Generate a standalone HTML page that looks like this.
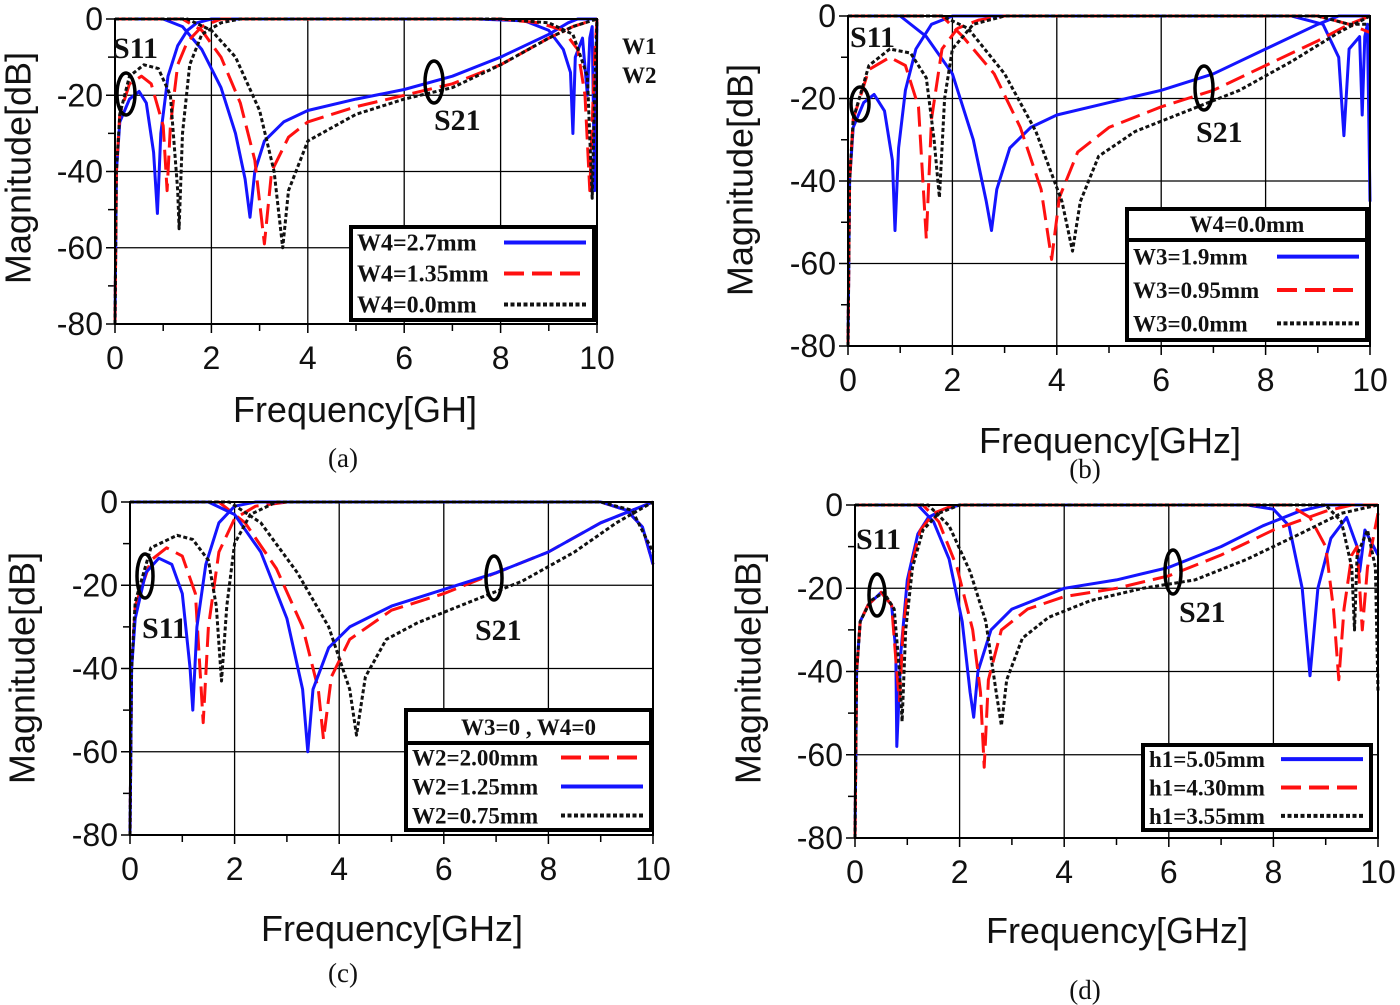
<!DOCTYPE html>
<html><head><meta charset="utf-8"><style>
html,body{margin:0;padding:0;background:#fff}
svg{display:block}
.tk{font-family:"Liberation Sans",Arial,sans-serif;font-size:32px;fill:#111}
.at{font-family:"Liberation Sans",Arial,sans-serif;font-size:36px;fill:#111}
.sv{font-family:"Liberation Serif","Times New Roman",serif;font-weight:bold;fill:#111}
.cap{font-family:"Liberation Serif","Times New Roman",serif;font-size:27px;fill:#111}
</style></head><body>
<svg id="fig" width="1400" height="1005" viewBox="0 0 1400 1005" xmlns="http://www.w3.org/2000/svg"></svg>
<script>
// ---- data: [frequency GHz, magnitude dB] ----
const xTicks=[0,2,4,6,8,10];
const yTicks=[0,-20,-40,-60,-80];
// (a)
const aBlueS11=[[0,-80],[0.03,-40],[0.1,-27],[0.3,-21],[0.5,-19],[0.65,-22],[0.8,-35],[0.88,-51],[0.95,-30],[1.1,-15],[1.3,-7],[1.5,-3],[1.7,-1],[2,0],[7.5,0],[8.5,-0.5],[9,-3],[9.3,-8],[9.45,-14],[9.5,-30],[9.55,-10],[9.7,-5],[9.8,-20],[9.85,-5],[9.9,-2],[9.95,-45],[10,0]];
const aBlueS21=[[0,0],[1,0],[1.4,-2],[1.8,-8],[2.2,-18],[2.5,-30],[2.7,-42],[2.8,-52],[2.9,-40],[3.1,-32],[3.5,-27],[4,-24],[5,-21],[6,-18.5],[7,-15],[8,-10],[9,-4],[9.4,-1],[9.6,0],[10,0]];
const aRedS11=[[0,-80],[0.03,-40],[0.1,-25],[0.3,-17],[0.55,-15],[0.75,-17],[1,-28],[1.08,-45],[1.15,-28],[1.3,-12],[1.5,-6],[1.8,-2],[2.2,0],[8,0],[8.8,-1],[9.3,-3],[9.6,-8],[9.75,-20],[9.85,-45],[9.95,-10],[10,0]];
const aRedS21=[[0,0],[1.4,0],[1.8,-3],[2.2,-10],[2.6,-22],[2.9,-37],[3.1,-59],[3.25,-40],[3.6,-31],[4,-27],[5,-23],[6,-20],[7,-17],[8,-12],[9,-5],[9.5,-2],[10,0]];
const aBlackS11=[[0,-80],[0.03,-40],[0.1,-25],[0.3,-15],[0.6,-12],[0.9,-13],[1.15,-20],[1.3,-45],[1.33,-55],[1.4,-30],[1.55,-12],[1.8,-4],[2.2,-1],[2.6,0],[8,0],[9,-1],[9.5,-4],[9.8,-15],[9.9,-47],[9.95,-20],[10,0]];
const aBlackS21=[[0,0],[1.5,0],[2,-3],[2.5,-10],[3,-24],[3.3,-40],[3.48,-60],[3.6,-45],[4,-32],[5,-25],[6,-21],[7,-18],[8,-12],[9,-5],[9.5,-2],[10,0]];
// (b)
const bBlueS11=[[0,-80],[0.03,-40],[0.1,-27],[0.3,-21],[0.5,-19],[0.7,-23],[0.85,-35],[0.9,-52],[0.97,-32],[1.1,-18],[1.3,-8],[1.6,-2],[2,0],[8.5,0],[9.1,-2],[9.4,-10],[9.5,-29],[9.6,-8],[9.8,-5],[9.85,-24],[9.9,-5],[9.95,-2],[10,-45]];
const bBlueS21=[[0,0],[1,0],[1.5,-5],[2,-14],[2.4,-30],[2.65,-45],[2.75,-52],[2.85,-42],[3.1,-32],[3.5,-27],[4,-24],[5,-21],[6,-18],[7,-14],[8,-8],[9,-2],[9.4,0],[10,0]];
const bRedS11=[[0,-80],[0.03,-40],[0.1,-25],[0.4,-13],[0.8,-10],[1.1,-12],[1.35,-22],[1.5,-54],[1.6,-25],[1.8,-8],[2.1,-3],[2.5,-1],[3,0],[9,0],[9.6,-2],[10,-4]];
const bRedS21=[[0,0],[1.8,0],[2.2,-5],[2.8,-14],[3.3,-27],[3.7,-42],[3.9,-59],[4.05,-44],[4.4,-33],[5,-27],[6,-22],[7,-18],[8,-12],[9,-6],[9.6,-2],[10,0]];
const bBlackS11=[[0,-80],[0.03,-40],[0.1,-25],[0.4,-12],[0.8,-8],[1.2,-9],[1.5,-15],[1.65,-30],[1.75,-44],[1.85,-20],[2,-8],[2.4,-2],[3,0],[9,0],[9.6,-2],[10,-2]];
const bBlackS21=[[0,0],[1.8,0],[2.3,-3],[3,-14],[3.6,-28],[4.1,-45],[4.3,-57],[4.45,-45],[4.8,-34],[5.5,-28],[6.5,-23],[7.5,-18],[8.5,-11],[9.4,-4],[10,0]];
// (c)
const cBlueS11=[[0,-80],[0.03,-40],[0.1,-28],[0.3,-17],[0.55,-13.5],[0.8,-15],[1,-22],[1.15,-40],[1.2,-50],[1.28,-30],[1.45,-15],[1.7,-5],[2,-1],[2.4,0],[9,0],[9.5,-2],[9.8,-6],[10,-15]];
const cBlueS21=[[0,0],[1.5,0],[2,-3],[2.5,-12],[3,-28],[3.3,-45],[3.4,-60],[3.5,-45],[3.8,-35],[4.2,-30],[5,-25],[6,-21],[7,-17],[8,-12],[9,-5],[9.6,-2],[10,0]];
const cRedS11=[[0,-80],[0.03,-40],[0.1,-25],[0.4,-14],[0.7,-11],[1,-13],[1.25,-22],[1.4,-53],[1.5,-30],[1.7,-12],[2,-4],[2.4,-1],[3,0],[9,0],[9.5,-2],[9.8,-6],[10,-15]];
const cRedS21=[[0,0],[1.7,0],[2.2,-5],[2.8,-16],[3.3,-30],[3.6,-45],[3.7,-57],[3.85,-42],[4.2,-33],[5,-26],[6,-22],[7,-17],[8,-12],[9,-5],[10,0]];
const cBlackS11=[[0,-80],[0.03,-40],[0.1,-24],[0.4,-11],[0.9,-8],[1.2,-9],[1.5,-14],[1.65,-25],[1.75,-43],[1.85,-25],[2,-10],[2.3,-3],[2.8,0],[9,0],[9.6,-2],[10,-12]];
const cBlackS21=[[0,0],[1.9,0],[2.5,-5],[3.2,-17],[3.8,-30],[4.2,-45],[4.33,-56],[4.5,-42],[4.9,-33],[5.5,-29],[6.5,-24],[7.5,-19],[8.5,-12],[9.3,-5],[10,0]];
// (d)
const dBlueS11=[[0,-80],[0.03,-40],[0.1,-28],[0.25,-24],[0.5,-21],[0.7,-24],[0.78,-35],[0.8,-58],[0.88,-35],[1,-18],[1.2,-7],[1.4,-3],[1.7,-1],[2,0],[7.5,0],[8,-1],[8.3,-5],[8.55,-20],[8.7,-41],[8.85,-20],[9.1,-8],[9.4,-3],[9.6,-10],[9.65,-16],[9.75,-6],[10,-12]];
const dBlueS21=[[0,0],[1.2,0],[1.5,-4],[1.8,-13],[2.05,-28],[2.2,-45],[2.27,-51],[2.35,-40],[2.6,-30],[3,-25],[4,-20],[5,-18],[6,-15],[7,-10],[7.8,-5],[8.5,-1.5],[9,0],[10,0]];
const dRedS11=[[0,-80],[0.03,-40],[0.1,-28],[0.25,-24],[0.5,-21],[0.7,-24],[0.8,-40],[0.85,-47],[0.92,-30],[1.05,-16],[1.25,-6],[1.5,-2],[1.9,0],[8.3,0],[8.7,-3],[9,-10],[9.15,-25],[9.25,-42],[9.35,-25],[9.5,-12],[9.6,-10],[9.7,-30],[9.8,-15],[10,-2]];
const dRedS21=[[0,0],[1.3,0],[1.6,-4],[1.95,-15],[2.25,-30],[2.4,-45],[2.47,-63],[2.55,-42],[2.8,-30],[3.3,-25],[4,-22],[5,-20],[6,-17],[7,-12],[8,-6],[9,-1.5],[9.5,0],[10,0]];
const dBlackS11=[[0,-80],[0.03,-40],[0.1,-28],[0.3,-23],[0.55,-21],[0.75,-25],[0.85,-40],[0.9,-52],[0.97,-30],[1.1,-15],[1.3,-6],[1.6,-2],[2,0],[9,0],[9.3,-4],[9.5,-15],[9.55,-30],[9.6,-12],[9.8,-6],[9.95,-15],[10,-45]];
const dBlackS21=[[0,0],[1.4,0],[1.8,-5],[2.2,-16],[2.5,-28],[2.7,-45],[2.8,-53],[2.9,-42],[3.2,-32],[3.7,-27],[4.5,-23],[5.5,-20],[6.5,-18],[7.5,-13],[8.5,-7],[9.3,-2],[10,0]];

const NS="http://www.w3.org/2000/svg";
const svg=document.getElementById('fig');
function mk(tag,attrs,parent,text){const e=document.createElementNS(NS,tag);for(const k in attrs)e.setAttribute(k,attrs[k]);if(text!==undefined)e.textContent=text;(parent||svg).appendChild(e);return e;}
const STY={blue:{stroke:'#1414ff',dash:''},red:{stroke:'#ff1010',dash:'20,8'},black:{stroke:'#111',dash:'4,2.5'}};

const panels=[
 {id:'a',x0:115,x1:597,y0:19,y1:324,xt:'Frequency[GH]',xtx:355,xty:422,mx:18,my:168,cap:'(a)',cx:343,cy:467,
  series:[['blue',aBlueS11,aBlueS21],['red',aRedS11,aRedS21],['black',aBlackS11,aBlackS21]]},
 {id:'b',x0:848,x1:1370,y0:16,y1:346,xt:'Frequency[GHz]',xtx:1110,xty:453,mx:740,my:180,cap:'(b)',cx:1085,cy:478,
  series:[['blue',bBlueS11,bBlueS21],['red',bRedS11,bRedS21],['black',bBlackS11,bBlackS21]]},
 {id:'c',x0:130,x1:653,y0:502,y1:835,xt:'Frequency[GHz]',xtx:392,xty:941,mx:22,my:668,cap:'(c)',cx:343,cy:982,
  series:[['red',cRedS11,cRedS21],['blue',cBlueS11,cBlueS21],['black',cBlackS11,cBlackS21]]},
 {id:'d',x0:855,x1:1378,y0:505,y1:838,xt:'Frequency[GHz]',xtx:1117,xty:943,mx:748,my:668,cap:'(d)',cx:1085,cy:999,
  series:[['blue',dBlueS11,dBlueS21],['red',dRedS11,dRedS21],['black',dBlackS11,dBlackS21]]}
];

panels.forEach(p=>{
  const g=mk('g',{});
  
  
  const sx=f=>p.x0+(f/10)*(p.x1-p.x0);
  const sy=d=>p.y0+(-d/80)*(p.y1-p.y0);
  xTicks.forEach(t=>{if(t>0&&t<10){const l=mk('line',{x1:sx(t),x2:sx(t),y1:p.y0,y2:p.y1,stroke:'#000','stroke-width':1.3},g);}});
  yTicks.forEach(t=>{if(t<0&&t>-80){const l=mk('line',{x1:p.x0,x2:p.x1,y1:sy(t),y2:sy(t),stroke:'#000','stroke-width':1.3},g);}});
  for(let t=1;t<10;t+=2){mk('line',{x1:sx(t),x2:sx(t),y1:p.y1,y2:p.y1+7,stroke:'#000','stroke-width':1.5},g);}
  for(let t=-10;t>-80;t-=20){mk('line',{x1:p.x0-7,x2:p.x0,y1:sy(t),y2:sy(t),stroke:'#000','stroke-width':1.5},g);}
  xTicks.forEach(t=>{mk('line',{x1:sx(t),x2:sx(t),y1:p.y1,y2:p.y1+9,stroke:'#000','stroke-width':1.5},g);
    const tx=mk('text',{x:sx(t),y:p.y1+45,'text-anchor':'middle',class:'tk'},g,String(t));});
  yTicks.forEach(t=>{mk('line',{x1:p.x0-9,x2:p.x0,y1:sy(t),y2:sy(t),stroke:'#000','stroke-width':1.5},g);
    const tx=mk('text',{x:p.x0-12,y:sy(t)+11,'text-anchor':'end',class:'tk'},g,String(t));});
  p.series.forEach(s=>{
    const st=STY[s[0]];
    [s[1],s[2]].forEach((arr,i)=>{
      const pts=arr.map(q=>sx(q[0]).toFixed(1)+','+sy(q[1]).toFixed(1)).join(' ');
      const pl=mk('polyline',{points:pts,fill:'none',stroke:st.stroke,'stroke-width':3,'stroke-dasharray':st.dash,'stroke-linejoin':'round'},g);
      
      
    });
  });
  const fr=mk('rect',{x:p.x0,y:p.y0,width:p.x1-p.x0,height:p.y1-p.y0,fill:'none',stroke:'#000','stroke-width':2},g);
  
  const xt=mk('text',{x:p.xtx,y:p.xty,'text-anchor':'middle',class:'at'},g,p.xt);
  
  const yt=mk('text',{x:p.mx,y:p.my,'text-anchor':'middle',class:'at',transform:'rotate(-90 '+p.mx+' '+p.my+')','dominant-baseline':'central'},g,'Magnitude[dB]');
  
  const cp=mk('text',{x:p.cx,y:p.cy,'text-anchor':'middle',class:'cap'},g,p.cap);
  
});

function lab(x,y,t,size,name){const e=mk('text',{x:x,y:y,class:'sv','font-size':size});e.textContent=t;}
function ell(cx,cy,rx,ry){const e=mk('ellipse',{cx:cx,cy:cy,rx:rx,ry:ry,fill:'none',stroke:'#000','stroke-width':3.5});}
lab(113,58,'S11',30,'s11-label');ell(126,94,9,21);
lab(434,130,'S21',30,'s21-label');ell(434,82,9,21);
lab(622,54,'W1',23,'w1-label');lab(622,83,'W2',23,'w2-label');
lab(850,47,'S11',30,'s11-label');ell(860,104,9,17);
lab(1196,142,'S21',30,'s21-label');ell(1204,88,9,22);
lab(142,638,'S11',30,'s11-label');ell(145,576,8,22);
lab(475,640,'S21',30,'s21-label');ell(494,578,8,22);
lab(856,549,'S11',30,'s11-label');ell(877,595,8,21);
lab(1179,622,'S21',30,'s21-label');ell(1173,572,8,22);

function legend(x,y,w,h,header,hh,entries,fs,name){
  const g=mk('g',{});
  mk('rect',{x:x,y:y,width:w,height:h,fill:'#fff',stroke:'#000','stroke-width':4},g);
  let top=y;
  if(header){const t=mk('text',{x:x+w/2,y:y+hh-8,'text-anchor':'middle',class:'sv','font-size':fs},g,header);
    mk('line',{x1:x,x2:x+w,y1:y+hh,y2:y+hh,stroke:'#000','stroke-width':4},g);top=y+hh;}
  const rowH=(y+h-top)/entries.length;
  entries.forEach((e,i)=>{const cy=top+rowH*(i+0.5);
    const t=mk('text',{x:x+6,y:cy+8,class:'sv','font-size':fs},g,e[0]);
    const st=STY[e[1]];mk('line',{x1:x+w-90,x2:x+w-8,y1:cy,y2:cy,stroke:st.stroke,'stroke-width':4,'stroke-dasharray':st.dash},g);});
}
legend(351,227,243,93,null,0,[['W4=2.7mm','blue'],['W4=1.35mm','red'],['W4=0.0mm','black']],24,'legend-a');
legend(1127,209,240,131,'W4=0.0mm',31,[['W3=1.9mm','blue'],['W3=0.95mm','red'],['W3=0.0mm','black']],23,'legend-b');
legend(406,710,245,120,'W3=0 , W4=0',33,[['W2=2.00mm','red'],['W2=1.25mm','blue'],['W2=0.75mm','black']],23,'legend-c');
legend(1143,745,228,85,null,0,[['h1=5.05mm','blue'],['h1=4.30mm','red'],['h1=3.55mm','black']],23,'legend-d');
</script>
</body></html>
